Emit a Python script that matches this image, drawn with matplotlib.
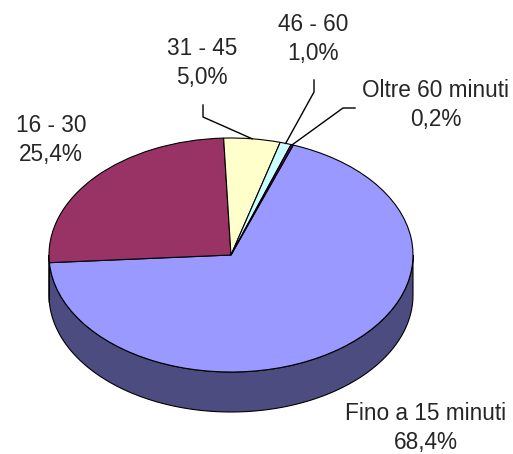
import numpy as np
import matplotlib

matplotlib.use("Agg")

import matplotlib.pyplot as plt  # isort: skip

# data
categories = ["Fino a 15 minuti", "16 - 30", "31 - 45", "46 - 60", "Oltre 60 minuti"]
shares = [68.4, 25.4, 5.0, 1.0, 0.2]
top_colors = ["#9999FF", "#993366", "#FFFFCC", "#CCFFFF", "#660066"]
side_colors = ["#4C4C80", "#4D1A33", "#808066", "#668080", "#330033"]

# layout, in pixels of the 513x454 picture
W, H = 513, 454
CX, CY = 231, 255       # centre of the top face
RX, RY = 182, 117       # ellipse half axes
DEPTH = 40              # thickness of the pie
K = RY / RX             # vertical squeeze

# label centres and leader-line elbows (pixels)
label_pos = [(426, 428), (51, 140), (202, 63), (313, 39), (436, 105)]
elbows = [None, None, [(203, 105), (203, 117)], [(314, 80), (314, 92)],
          [(355, 108), (343, 108)]]


def px(x, y):
    """Pixel position (y down) to data coordinates."""
    return x, (H - y) / K


fig = plt.figure(figsize=(W / 100, H / 100), dpi=100)
ax = fig.add_axes([0, 0, 1, 1])

cx, cy = px(CX, CY)
depth = DEPTH / K

wedges, _ = ax.pie(shares, colors=top_colors, startangle=70, counterclock=False,
                   center=(cx, cy), radius=RX,
                   wedgeprops=dict(edgecolor="black", linewidth=0.8, zorder=3))

# side walls: only the front half (180..360 deg) is visible
for w, col in zip(wedges, side_colors):
    t1, t2 = w.theta1, w.theta2
    for shift in (-360, 0, 360):
        lo, hi = max(t1 + shift, 180), min(t2 + shift, 360)
        if hi <= lo:
            continue
        t = np.radians(np.linspace(lo, hi, 100))
        xs = cx + RX * np.cos(t)
        ys = cy + RX * np.sin(t)
        ax.fill(np.r_[xs, xs[::-1]], np.r_[ys, ys[::-1] - depth],
                facecolor=col, edgecolor="black", linewidth=0.8, zorder=1)

# labels and leader lines
for i, (w, name, val) in enumerate(zip(wedges, categories, shares)):
    lx, ly = label_pos[i]
    txt = f"{name}\n{val:.1f}%".replace(".", ",")
    ax.text(*px(lx, ly), txt, ha="center", va="center", fontsize=16.3,
            family="Liberation Sans", color="#262626", linespacing=1.32)
    if elbows[i]:
        mid = np.radians((w.theta1 + w.theta2) / 2)
        end = (cx + RX * np.cos(mid), cy + RX * np.sin(mid))
        pts = [px(*p) for p in elbows[i]] + [end]
        xs, ys = zip(*pts)
        ax.plot(xs, ys, color="black", linewidth=1.0, zorder=4)

ax.set_aspect("auto")
ax.set_xlim(0, W)
ax.set_ylim(0, H / K)
ax.set_axis_off()

fig.savefig("out.png", dpi=100, facecolor="white")
